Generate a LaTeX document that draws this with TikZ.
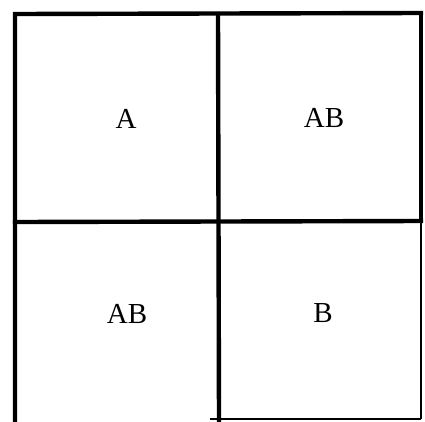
\documentclass[tikz,border=0pt]{standalone}
\usepackage{fontspec}
\setmainfont{Liberation Serif}
\begin{document}
\begin{tikzpicture}[x=1pt,y=-1pt,
  heavy/.style={line width=4.4pt,line cap=rect},
  light/.style={line width=2.4pt},
  lbl/.style={font=\fontsize{29}{32}\selectfont,inner sep=0pt}]
\useasboundingbox (0,0) rectangle (425,421);
\coordinate (tl) at (15,14);
\coordinate (tr) at (421,13);
\coordinate (bl) at (15,421);
\coordinate (ml) at (15,222);
\coordinate (mr) at (421,221);
\coordinate (mt) at (218,14);
\coordinate (mb) at (219,421);
\coordinate (br) at (421,419);
\coordinate (bm) at (210,419);
% outer lines
\draw[heavy] (bl) -- (tl) -- (tr);
\draw[line width=3.4pt] (tr) -- (mr);
\draw[light] (mr) -- (br);
\draw[light] (bm) -- (br);
% dividers
\draw[heavy] (ml) -- (mr);
\draw[heavy] (mt) -- (mb);
% labels
\node[lbl] (a)   at (126,119) {A};
\node[lbl] (ab1) at (324,118) {AB};
\node[lbl] (ab2) at (127,314) {AB};
\node[lbl] (b)   at (323,313) {B};
\end{tikzpicture}
\end{document}
